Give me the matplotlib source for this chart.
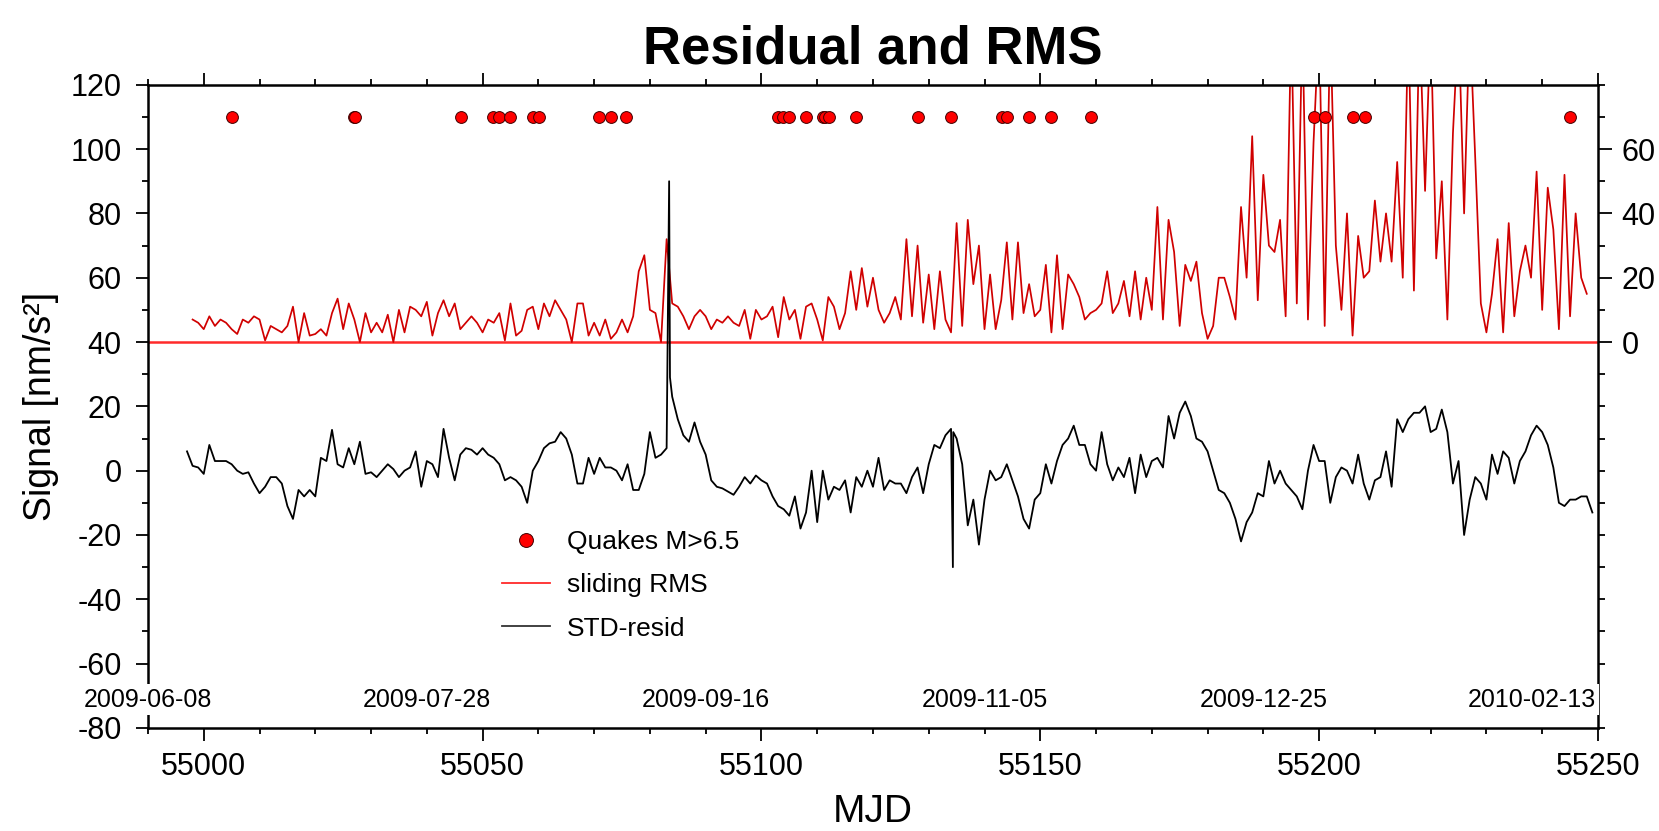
import numpy as np
import matplotlib
matplotlib.use("Agg")
import matplotlib.pyplot as plt
from matplotlib.ticker import MultipleLocator, FixedLocator
from matplotlib.lines import Line2D

plt.rcParams["font.family"] = ["Liberation Sans", "DejaVu Sans"]
plt.rcParams["axes.unicode_minus"] = False

# sliding RMS (nm/s^2, right axis), one value per day from MJD 54998
rms_start = 54998
rms_vals = [
    7, 6, 4, 8, 5, 7, 6, 4, 2.5, 7, 6, 8, 7, 0.5, 5, 4, 3, 5, 11, 0,
    9, 2, 2.5, 4, 2, 9, 13.5, 4, 12, 7, 0, 9, 3, 6, 3, 8.5,
    0, 10, 3, 11, 10, 8, 12.5, 2, 9, 13, 8, 12, 4, 6, 8, 6, 3, 7, 6, 9,
    0.5, 12, 2, 3.5, 10, 11, 4, 12, 8, 13, 10, 7, 0, 12, 12, 2, 6, 2, 7, 1,
    3, 7, 3,
    8, 22, 27, 10, 9, 0, 32, 12, 11, 8, 4, 8, 10, 8, 4, 7, 6, 8, 6, 5,
    10, 1, 10, 7, 8, 11, 1.5, 14, 7, 10, 1, 11, 12, 7, 0.5, 14, 11, 4, 9, 22,
    10, 23, 11, 20,
    10, 6, 9, 14, 7, 32, 8, 30, 6, 21, 4, 22, 7, 3, 37, 5, 38, 18, 30, 4,
    21, 4, 13, 31, 7, 31, 9, 18, 8, 10, 24, 3, 27, 4, 21, 18, 14, 7, 9, 10,
    12, 22, 9,
    12, 19, 8, 22, 7, 20, 10, 42, 7, 38, 28, 5, 24, 19, 25, 9, 1, 5, 20, 20,
    14, 7, 42, 20, 64, 13, 52, 30, 28, 38, 8, 100, 12, 100, 7, 62, 100, 5, 100, 30,
    10, 40, 2,
    33, 20, 22, 44, 25, 40, 25, 56, 20, 100, 16, 100, 47, 100, 26, 50, 7, 65, 100, 40,
    100, 57, 12, 3, 15, 32, 3, 37, 8, 22, 30, 20, 53, 10, 48, 35, 4, 52, 8, 40,
    20, 15,
]

# STD residual (nm/s^2, left axis), one value per day from MJD 54997
resid_start = 54997
resid_vals = [
    6, 1.5, 1, -1, 8, 3, 3, 3, 2, 0, -1, -0.5, -4, -7, -5, -2, -2, -4, -11, -15,
    -6, -8, -6, -8, 4, 3, 12.7, 2, 1, 7, 2, 9, -1, -0.5, -2, 0, 2,
    0.5, -2, 0, 1, 6, -5, 3, 2, -2, 13, 4, -3, 5, 7, 6.5, 5, 7, 5, 4, 2,
    -3, -2, -3, -5, -10, 0, 3, 7, 8.5, 9, 12, 10, 5, -4, -4, 4, -1, 4, 1, 1,
    0, -3, 2,
    -6, -6, -1, 12, 4, 5, 7, 23, 16, 11, 9, 15, 9, 5, -3, -5, -5.5, -6.5, -7.5, -5,
    -2, -4, -1.5, -3, -4, -8, -11, -12, -14, -8, -18, -13, 0, -16, 0, -9, -5, -6, -3, -13,
    -2, -5, 0, -5,
    4, -6, -3, -4, -4, -7, -2, 1, -7, 2, 8, 7, 11, 13, 10, 2, -17, -9, -23, -9,
    0, -3, -2, 2, -3, -8, -15, -18, -9, -7, 2, -4, 3, 8, 10, 14, 8, 8, 2, 0,
    12, 2, -3,
    1, -2, 4, -7, 5, -2, 3, 4, 1, 17, 10, 18, 21.5, 17, 10, 9, 6, 0, -6, -7,
    -10, -15, -22, -16, -13, -7, -8, 3, -4, 0, -4, -6, -8, -12, 0, 8, 3, 3, -10, -2,
    1, 0, -4, 5,
    -4, -9, -3, -2, 6, -5, 16, 12, 16, 18, 18, 20, 12, 13, 19, 12, -4, 3, -20, -9,
    -2, -4, -9, 5, -1, 6, 4, -4, 3, 6, 11, 14, 12, 8, 1, -10, -11, -9, -9, -8,
    -8, -13,
]
# short spikes between daily samples
spike_mjd = [55083.45, 55083.6, 55134.33, 55134.4]
spike_vals = [90, 29, -30, 12]

# earthquakes M>6.5
quake_mjd = [55005.1, 55026.9, 55027.2, 55046.1, 55051.8, 55053.0, 55055.0,
             55059.1, 55060.1, 55070.9, 55073.0, 55075.8, 55102.9, 55103.8,
             55104.9, 55108.0, 55111.0, 55111.4, 55112.2, 55117.0, 55128.1,
             55134.0, 55143.2, 55144.1, 55148.0, 55152.0, 55159.1, 55199.0,
             55201.0, 55206.0, 55208.2, 55245.0]
quake_level = 110

date_mjd = [54990, 55040, 55090, 55140, 55190, 55240]
date_labels = ["2009-06-08", "2009-07-28", "2009-09-16", "2009-11-05",
               "2009-12-25", "2010-02-13"]

rms_mjd = rms_start + np.arange(len(rms_vals))
resid_mjd = np.concatenate([resid_start + np.arange(len(resid_vals)), spike_mjd])
resid_all = np.concatenate([resid_vals, spike_vals])
order = np.argsort(resid_mjd)
resid_mjd, resid_all = resid_mjd[order], resid_all[order]

fig = plt.figure(figsize=(16.59, 8.31), dpi=100)
ax = fig.add_axes([0.0892, 0.124, 0.8740, 0.774])
ax2 = ax.twinx()
ax.set_zorder(ax2.get_zorder() + 1)
ax.patch.set_visible(False)

# red curves on right axis
ax2.axhline(0, color="#ff2a2a", lw=1.8)
ax2.plot(rms_mjd, rms_vals, color="#d00000", lw=1.25)
ax2.set_ylim(-120, 80)
ax2.set_yticks([0, 20, 40, 60])
right_minor = [v for v in range(-120, 81, 10) if v != -110]
ax2.yaxis.set_minor_locator(FixedLocator(right_minor))
ax2.tick_params(which="both", direction="out", width=1.3, labelsize=22, pad=7)
ax2.tick_params(which="major", length=10)
ax2.tick_params(which="minor", length=5)
for s in ax2.spines.values():
    s.set_visible(False)

# black residual and quakes on left axis
ax.plot(resid_mjd, resid_all, color="black", lw=1.3)
ax.plot(quake_mjd, [quake_level] * len(quake_mjd), "o", ms=8.5,
        mfc="#ff0000", mec="#400000", mew=0.7, ls="none")

ax.set_xlim(54990, 55250)
ax.set_ylim(-80, 120)
ax.xaxis.set_major_locator(MultipleLocator(50))
ax.xaxis.set_minor_locator(MultipleLocator(10))
ax.yaxis.set_major_locator(MultipleLocator(20))
ax.yaxis.set_minor_locator(MultipleLocator(10))
ax.tick_params(which="both", direction="out", top=True, right=False,
               width=1.3, labelsize=22)
ax.tick_params(which="major", length=9)
ax.tick_params(which="minor", length=4.5)
ax.tick_params(axis="y", pad=10)
ax.tick_params(axis="x", pad=8)
for s in ax.spines.values():
    s.set_linewidth(1.8)

for i, (m, lab) in enumerate(zip(date_mjd, date_labels)):
    xpos, ha = m, "center"
    if i == len(date_mjd) - 1:
        xpos, ha = 55249.6, "right"
    ax.text(xpos, -71.3, lab, ha=ha, va="center", fontsize=18, zorder=5,
            clip_on=False,
            bbox=dict(facecolor="white", edgecolor="none", pad=2.5))

ax.set_xlabel("MJD", fontsize=28, labelpad=9)
ax.set_ylabel("Signal [nm/s\u00b2]", fontsize=27, labelpad=8)
ax.set_title("Residual and RMS", fontsize=38, fontweight="bold", pad=15)

handles = [
    Line2D([], [], marker="o", ls="none", ms=10, mfc="#ff0000", mec="#400000",
           mew=0.7),
    Line2D([], [], color="#ff2a2a", lw=1.3),
    Line2D([], [], color="#333333", lw=1.3),
]
ax.legend(handles, ["Quakes M>6.5", "sliding RMS", "STD-resid"],
          loc="upper left", bbox_to_anchor=(502 / 1659, 1 - 530 / 831),
          bbox_transform=fig.transFigure, frameon=False, fontsize=19,
          handlelength=1.8, handletextpad=0.65, labelspacing=0.73,
          borderpad=0, borderaxespad=0)

fig.savefig("out.png", dpi=100)
